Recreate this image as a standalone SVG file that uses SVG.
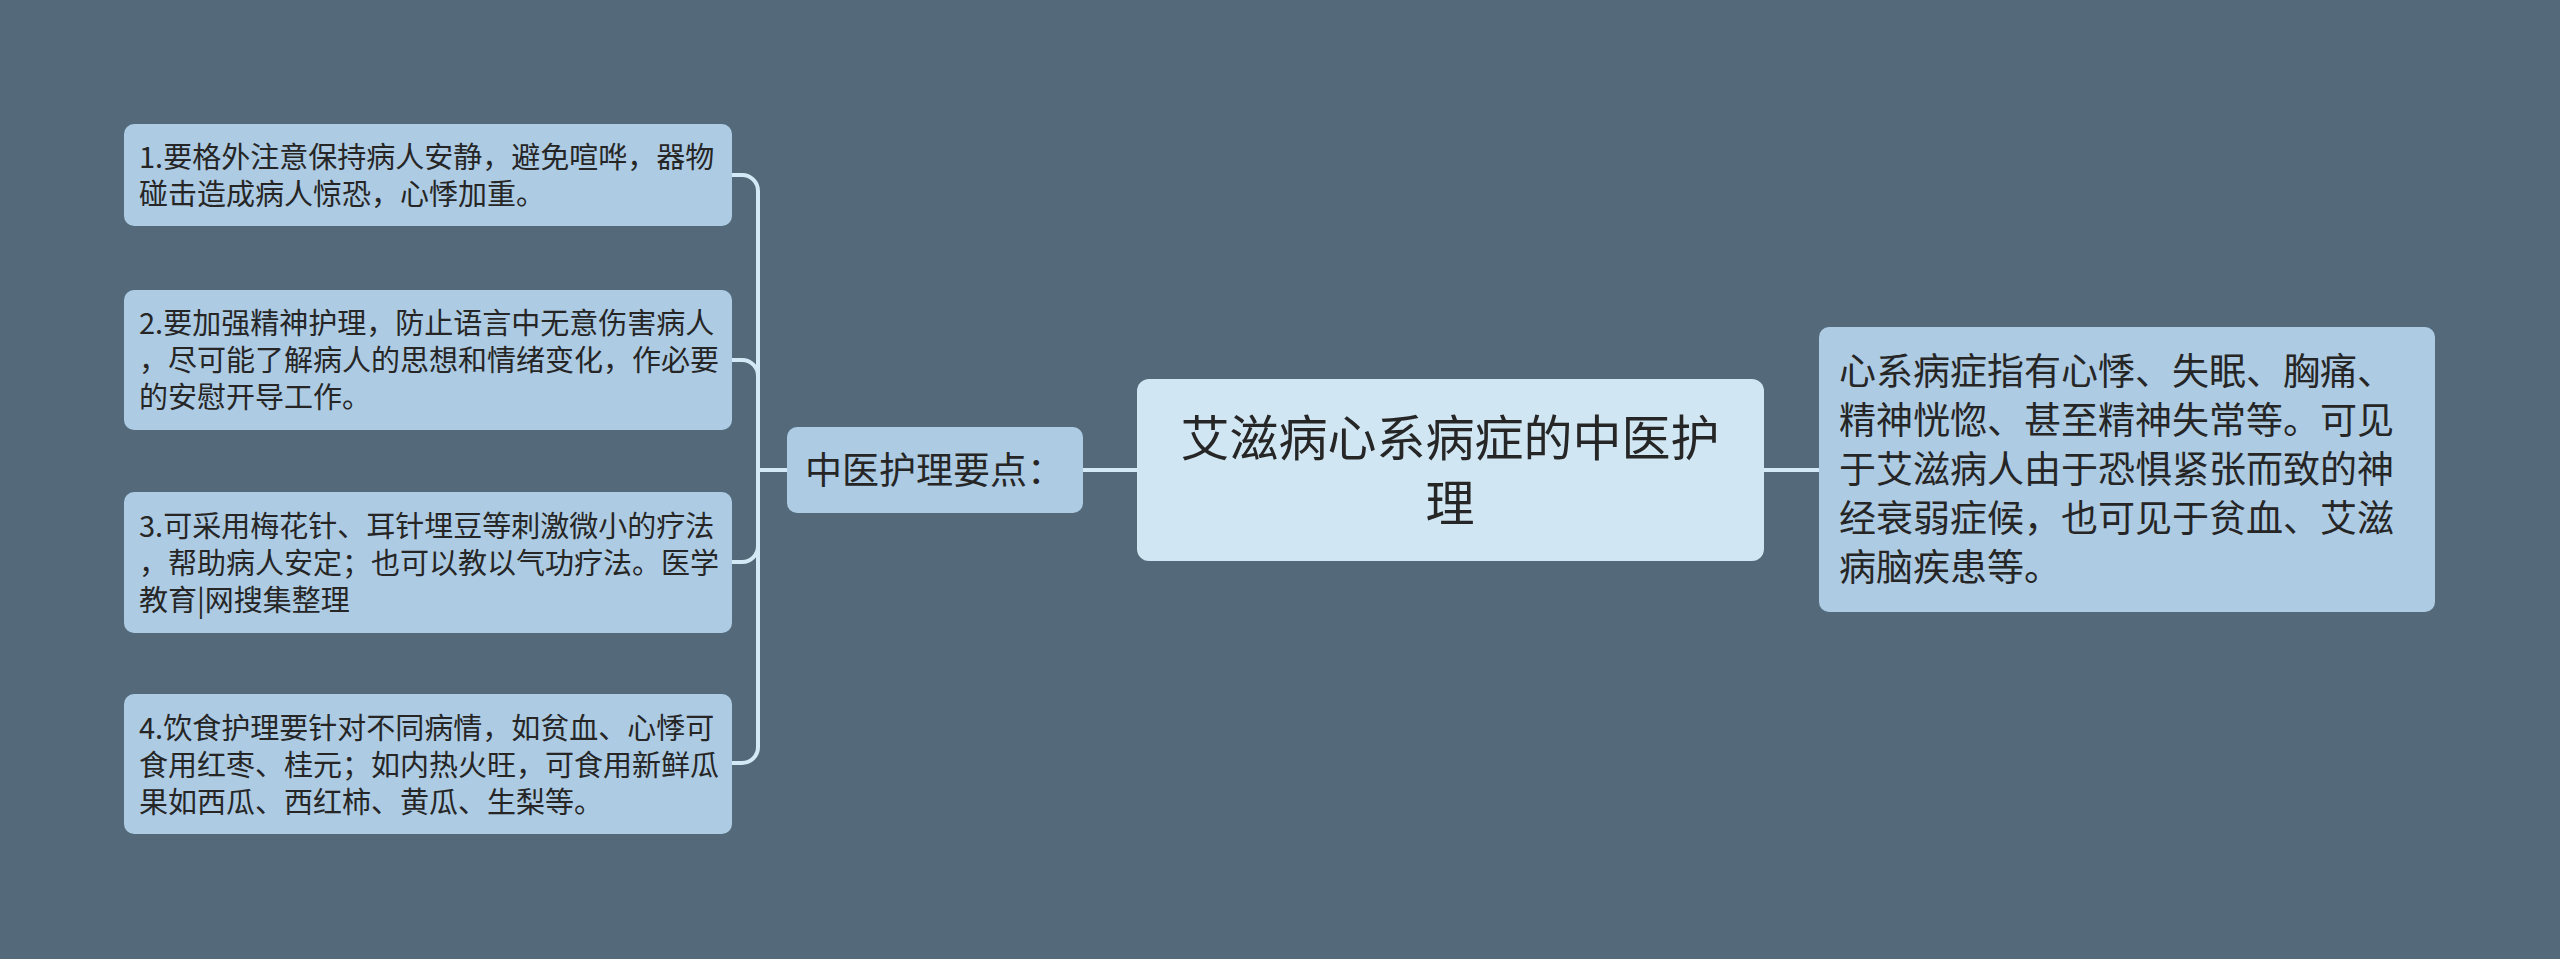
<svg xmlns="http://www.w3.org/2000/svg" width="2560" height="959" viewBox="0 0 2560 959">
<style>
.bg{fill:#546a7a}
.box{fill:#adcbe3}
.root{fill:#d0e6f3}
.t{font-family:"Noto Sans CJK SC","Noto Sans",sans-serif;fill:#262626}
.leaf{font-size:29px}
.mid{font-size:37px}
.big{font-size:49px}
.conn{fill:none;stroke:#d3eaf6;stroke-width:4;stroke-linecap:round;stroke-linejoin:round}
</style>
<rect class="bg" x="0" y="0" width="2560" height="959"/>
<g id="connectors">
<path class="conn" d="M732,175 H742 A16,16 0 0 1 758,191 V747 A16,16 0 0 1 742,763 H732"/>
<path class="conn" d="M732,360 H742 A16,16 0 0 1 758,376"/>
<path class="conn" d="M732,562 H742 A16,16 0 0 0 758,546"/>
<path class="conn" d="M758,470 H787"/>
<path class="conn" d="M1083,470 H1137"/>
<path class="conn" d="M1764,470 H1819"/>
</g>
<g id="leaf1">
<rect class="box" x="124" y="124" width="608" height="102" rx="10"/>
<text class="t leaf" x="139" y="168">1.要格外注意保持病人安静，避免喧哗，器物</text>
<text class="t leaf" x="139" y="205">碰击造成病人惊恐，心悸加重。</text>
</g>
<g id="leaf2">
<rect class="box" x="124" y="290" width="608" height="140" rx="10"/>
<text class="t leaf" x="139" y="334">2.要加强精神护理，防止语言中无意伤害病人</text>
<text class="t leaf" x="139" y="371">，尽可能了解病人的思想和情绪变化，作必要</text>
<text class="t leaf" x="139" y="408">的安慰开导工作。</text>
</g>
<g id="leaf3">
<rect class="box" x="124" y="492" width="608" height="141" rx="10"/>
<text class="t leaf" x="139" y="537">3.可采用梅花针、耳针埋豆等刺激微小的疗法</text>
<text class="t leaf" x="139" y="574">，帮助病人安定；也可以教以气功疗法。医学</text>
<text class="t leaf" x="139" y="611">教育|网搜集整理</text>
</g>
<g id="leaf4">
<rect class="box" x="124" y="694" width="608" height="140" rx="10"/>
<text class="t leaf" x="139" y="739">4.饮食护理要针对不同病情，如贫血、心悸可</text>
<text class="t leaf" x="139" y="776">食用红枣、桂元；如内热火旺，可食用新鲜瓜</text>
<text class="t leaf" x="139" y="813">果如西瓜、西红柿、黄瓜、生梨等。</text>
</g>
<g id="sub">
<rect class="box" x="787" y="427" width="296" height="86" rx="10"/>
<text class="t mid" x="805" y="484">中医护理要点：</text>
</g>
<g id="root">
<rect class="root" x="1137" y="379" width="627" height="182" rx="12"/>
<text class="t big" x="1450" y="456" text-anchor="middle">艾滋病心系病症的中医护</text>
<text class="t big" x="1450" y="521" text-anchor="middle">理</text>
</g>
<g id="desc">
<rect class="box" x="1819" y="327" width="616" height="285" rx="10"/>
<text class="t mid" x="1839" y="385">心系病症指有心悸、失眠、胸痛、</text>
<text class="t mid" x="1839" y="434">精神恍惚、甚至精神失常等。可见</text>
<text class="t mid" x="1839" y="483">于艾滋病人由于恐惧紧张而致的神</text>
<text class="t mid" x="1839" y="532">经衰弱症候，也可见于贫血、艾滋</text>
<text class="t mid" x="1839" y="581">病脑疾患等。</text>
</g>
</svg>
